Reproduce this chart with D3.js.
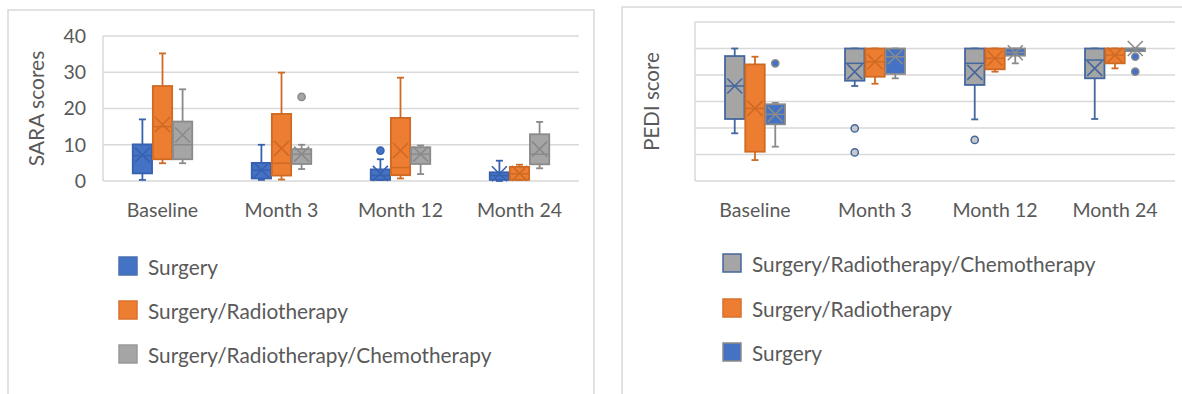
<!DOCTYPE html>
<html>
<head>
<meta charset="utf-8">
<script src="https://cdn.jsdelivr.net/npm/d3@7"></script>
<style>
  html, body { margin: 0; padding: 0; background: #fff; }
  svg { display: block; }
  text { font-family: Lato, "Open Sans", sans-serif; fill: #595959; }
</style>
</head>
<body>
<svg id="chart" width="1182" height="394"></svg>
<script>
// ---------- data ----------
const categories = ["Baseline", "Month 3", "Month 12", "Month 24"];

// each entry: [min, q1, median, q3, max, mean]
const saraSurgery = [[0.3, 2.1, 7.0, 10.1, 17.0, 7.2], [0.3, 0.7, 3.0, 5.0, 10.0, 3.0], [0.3, 0.3, 1.5, 3.2, 6.0, 2.1], [0.0, 0.3, 1.5, 2.4, 5.6, 2.0]];
const saraSurgeryRadio = [[4.9, 6.0, 15.0, 26.2, 35.2, 15.6], [0.4, 1.5, 4.9, 18.5, 29.9, 9.0], [0.7, 1.6, 3.7, 17.4, 28.5, 8.4], [0.3, 0.3, 2.0, 3.9, 4.5, 2.1]];
const saraSurgeryRadioChemo = [[4.9, 6.0, 10.0, 16.4, 25.3, 12.7], [3.3, 4.7, 7.4, 8.8, 10.0, 7.4], [1.9, 4.7, 7.4, 9.3, 9.8, 7.4], [3.5, 4.6, 7.4, 12.9, 16.3, 8.8]];
const saraOutliersSurgery = [[], [], [8.4], []];
const saraOutliersSurgeryRadio = [[], [], [], []];
const saraOutliersSurgeryRadioChemo = [[], [23.2], [], []];

const pediSurgeryRadioChemo = [[36.0, 46.8, 71.7, 94.3, 100, 71.7], [71.7, 75.7, 88.8, 100, 100, 82.5], [46.5, 72.5, 88.8, 100, 100, 82.0], [46.8, 77.5, 91.3, 100, 100, 85.0]];
const pediSurgeryRadio = [[15.8, 22.1, 54.8, 88.0, 93.8, 54.8], [73.4, 78.7, 90.0, 100, 100, 90.0], [82.5, 84.3, 92.6, 100, 100, 92.6], [85.0, 88.8, 95.0, 100, 100, 95.0]];
const pediSurgery = [[25.9, 42.8, 50.3, 57.9, 59.0, 50.3], [77.5, 80.8, 93.8, 100, 100, 93.8], [88.8, 94.6, 97.0, 100, 100, 96.8], [98.0, 98.0, 100, 100, 100, 100]];
const pediOutliersSurgeryRadioChemo = [[], [39.7, 21.6], [31.0], []];
const pediOutliersSurgeryRadio = [[], [], [], []];
const pediOutliersSurgery = [[88.8], [], [], [93.8, 82.5]];

const saraTicks = [0, 10, 20, 30, 40];
const pediTicks = [0, 20, 40, 60, 80, 100, 120];

// ---------- drawing ----------
const svg = d3.select("#chart");
const gridColor = "#d9d9d9";

// outer frames
svg.append("rect").attr("x", 8).attr("y", 10).attr("width", 586).attr("height", 420)
  .attr("fill", "none").attr("stroke", gridColor).attr("stroke-width", 1.5);
svg.append("rect").attr("x", 622).attr("y", 7).attr("width", 620).attr("height", 420)
  .attr("fill", "none").attr("stroke", gridColor).attr("stroke-width", 1.5);

function drawPanel(cfg) {
  const g = svg.append("g");
  const x = d3.scaleBand().domain(categories).range([cfg.left, cfg.right]).paddingInner(0.5).paddingOuter(0.25);
  const y = d3.scaleLinear().domain(cfg.domain).range([cfg.bottom, cfg.top]);
  const inner = d3.scaleBand().domain(cfg.series.map(s => s.name)).range([0, x.bandwidth()]).paddingInner(0.04);

  // gridlines
  g.append("g").selectAll("line").data(cfg.ticks).join("line")
    .attr("x1", cfg.left).attr("x2", cfg.right)
    .attr("y1", d => y(d)).attr("y2", d => y(d))
    .attr("stroke", gridColor).attr("stroke-width", 1.5);
  g.append("line").attr("x1", cfg.left).attr("x2", cfg.left).attr("y1", y(cfg.domain[1])).attr("y2", y(cfg.domain[0]))
    .attr("stroke", gridColor).attr("stroke-width", 1.5);

  // y axis labels
  if (cfg.showYLabels) {
    const ya = g.append("g").attr("transform", `translate(${cfg.left - 4},0)`)
      .call(d3.axisLeft(y).tickValues(cfg.ticks).tickSize(0).tickPadding(13));
    ya.select(".domain").remove();
    ya.selectAll("text").style("font-size", "19.5px").attr("fill", "#595959").style("font-family", "Lato, sans-serif");
  }
  // y axis title
  g.append("text").attr("transform", `translate(${cfg.titleX},${(y(cfg.domain[0]) + y(cfg.domain[1])) / 2 + (cfg.titleDy||0)}) rotate(-90)`)
    .attr("text-anchor", "middle").attr("dominant-baseline", "central")
    .style("font-size", cfg.titleSize).text(cfg.title);

  // x axis
  const xa = g.append("g").attr("transform", `translate(0,${cfg.bottom})`)
    .call(d3.axisBottom(x).tickSize(0).tickPadding(22));
  xa.select(".domain").remove();
  xa.selectAll("text").style("font-size", "19.5px").attr("fill", "#595959").style("font-family", "Lato, sans-serif");

  // boxes
  cfg.series.forEach(s => {
    const sg = g.append("g");
    s.stats.forEach((st, i) => {
      const [mn, q1, md, q3, mx, mean] = st;
      const bx = x(categories[i]) + inner(s.name);
      const bw = inner.bandwidth();
      const cx = bx + bw / 2;
      // whiskers
      sg.append("line").attr("x1", cx).attr("x2", cx).attr("y1", y(q3)).attr("y2", y(mx)).attr("stroke", s.stroke).attr("stroke-width", 1.8);
      sg.append("line").attr("x1", cx).attr("x2", cx).attr("y1", y(q1)).attr("y2", y(mn)).attr("stroke", s.stroke).attr("stroke-width", 1.8);
      sg.append("line").attr("x1", cx - 3.5).attr("x2", cx + 3.5).attr("y1", y(mx)).attr("y2", y(mx)).attr("stroke", s.stroke).attr("stroke-width", 1.8);
      sg.append("line").attr("x1", cx - 3.5).attr("x2", cx + 3.5).attr("y1", y(mn)).attr("y2", y(mn)).attr("stroke", s.stroke).attr("stroke-width", 1.8);
      // box
      sg.append("rect").attr("x", bx).attr("width", bw).attr("y", y(q3)).attr("height", Math.max(1, y(q1) - y(q3)))
        .attr("fill", s.fill).attr("stroke", s.stroke).attr("stroke-width", 1.8);
      // median
      sg.append("line").attr("x1", bx).attr("x2", bx + bw).attr("y1", y(md)).attr("y2", y(md)).attr("stroke", s.stroke).attr("stroke-width", 1.5);
      // mean X
      const m = 7.5, my = y(mean);
      sg.append("path").attr("d", `M${cx - m},${my - m}L${cx + m},${my + m}M${cx - m},${my + m}L${cx + m},${my - m}`)
        .attr("stroke", s.stroke).attr("stroke-width", 1.6).attr("fill", "none");
      // outliers
      s.outliers[i].forEach(o => {
        sg.append("circle").attr("cx", cx).attr("cy", y(o)).attr("r", 3.6)
          .attr("fill", s.outFill).attr("stroke", s.stroke).attr("stroke-width", 1.5);
      });
    });
  });

  // legend
  cfg.series.forEach((s, i) => {
    const ly = cfg.legendY[i];
    g.append("rect").attr("x", cfg.legendX).attr("y", ly - 9).attr("width", 18).attr("height", 18)
      .attr("fill", s.fill).attr("stroke", s.legendStroke).attr("stroke-width", 1.5);
    g.append("text").attr("x", cfg.legendX + 29).attr("y", ly).attr("dominant-baseline", "central")
      .style("font-size", "20.8px").text(s.name);
  });
}

const blue = "#4472c4", orange = "#ed7d31", gray = "#a5a5a5";
const blueDark = "#3761ae", orangeDark = "#cf6a24", grayDark = "#8a8a8a";

drawPanel({
  left: 103, right: 579, top: 36, bottom: 181,
  domain: [0, 40], ticks: saraTicks, showYLabels: true,
  title: "SARA scores", titleX: 35, titleSize: "21px",
  legendX: 119, legendY: [266, 310, 354],
  series: [
    { name: "Surgery", stats: saraSurgery, outliers: saraOutliersSurgery, fill: blue, stroke: blueDark, outFill: blue, legendStroke: "#4a6fb0" },
    { name: "Surgery/Radiotherapy", stats: saraSurgeryRadio, outliers: saraOutliersSurgeryRadio, fill: orange, stroke: orangeDark, outFill: orange, legendStroke: "#d9722c" },
    { name: "Surgery/Radiotherapy/Chemotherapy", stats: saraSurgeryRadioChemo, outliers: saraOutliersSurgeryRadioChemo, fill: gray, stroke: grayDark, outFill: gray, legendStroke: "#999999" }
  ]
});

drawPanel({
  left: 695, right: 1175, top: 22, bottom: 181,
  domain: [0, 120], ticks: pediTicks, showYLabels: false,
  title: "PEDI score", titleX: 651, titleSize: "20.5px",
  legendX: 723, legendY: [263, 308, 352],
  series: [
    { name: "Surgery/Radiotherapy/Chemotherapy", stats: pediSurgeryRadioChemo, outliers: pediOutliersSurgeryRadioChemo, fill: gray, stroke: "#44679f", outFill: "#c8c8c8", legendStroke: "#44679f" },
    { name: "Surgery/Radiotherapy", stats: pediSurgeryRadio, outliers: pediOutliersSurgeryRadio, fill: orange, stroke: orangeDark, outFill: orange, legendStroke: "#d9722c" },
    { name: "Surgery", stats: pediSurgery, outliers: pediOutliersSurgery, fill: blue, stroke: "#8a8a8a", outFill: blue, legendStroke: "#8a8a8a" }
  ]
});
</script>
</body>
</html>
